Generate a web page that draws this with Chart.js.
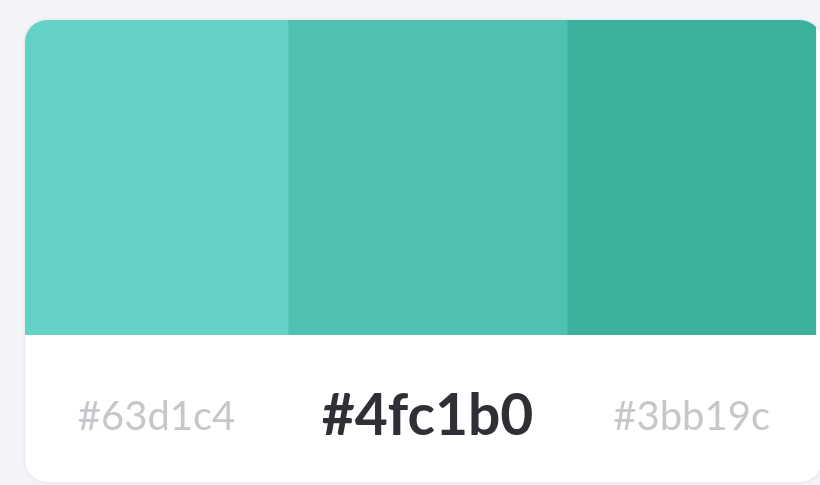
<!DOCTYPE html>
<html>
<head>
<meta charset="utf-8">
<script src="https://cdn.jsdelivr.net/npm/chart.js@4"></script>
<style>
  html, body { margin: 0; padding: 0; background: #f3f4f7; }
  body { width: 820px; height: 485px; overflow: hidden; position: relative; }
  .card {
    position: absolute;
    left: 25px;
    top: 20px;
    width: 797px;
    height: 462px;
    background: #ffffff;
    border-radius: 22px;
    overflow: hidden;
    box-shadow: 0 0 4px rgba(0, 0, 0, 0.09);
  }
  canvas { display: block; }
</style>
</head>
<body>
<div class="card">
  <canvas id="palette" width="797" height="462"></canvas>
</div>
<script>
// palette swatches, left to right
const swatchNames = ['#63d1c4', '#4fc1b0', '#3bb19c']
// width share of each swatch in the strip
const swatchWidths = [265, 281, 251]
// which swatch is the highlighted one
const activeIndex = 1

const total = swatchWidths.reduce((a, b) => a + b, 0)

// centre of each swatch on the value axis, used as tick positions
const centres = []
let run = 0
for (const w of swatchWidths) {
  centres.push(run + w / 2)
  run += w
}

const datasets = swatchNames.map((name, i) => ({
  label: name,
  data: [swatchWidths[i]],
  backgroundColor: name,
  borderWidth: 0,
  barPercentage: 1,
  categoryPercentage: 1
}))

new Chart(document.getElementById('palette'), {
  type: 'bar',
  data: {
    labels: [''],
    datasets
  },
  options: {
    indexAxis: 'y',
    responsive: false,
    animation: false,
    layout: { padding: 0 },
    plugins: {
      legend: { display: false },
      tooltip: { enabled: false }
    },
    scales: {
      y: {
        stacked: true,
        display: false
      },
      x: {
        stacked: true,
        min: 0,
        max: total,
        grid: { display: false, drawTicks: false },
        border: { display: false },
        afterBuildTicks (scale) {
          scale.ticks = centres.map(v => ({ value: v }))
        },
        afterFit (scale) {
          scale.height = 147
        },
        ticks: {
          padding: 52,
          autoSkip: false,
          maxRotation: 0,
          callback (value, index) {
            return swatchNames[index]
          },
          color (ctx) {
            return ctx.index === activeIndex ? '#2f2f35' : '#c6c6cb'
          },
          font (ctx) {
            if (ctx.index === activeIndex) {
              return { family: 'Lato', size: 57, weight: 'bold', lineHeight: '60px' }
            }
            return { family: 'Lato', size: 40, weight: 'normal', lineHeight: '60px' }
          }
        }
      }
    }
  }
})
</script>
</body>
</html>
